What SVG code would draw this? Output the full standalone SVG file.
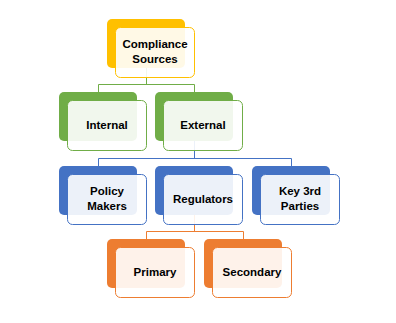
<svg xmlns="http://www.w3.org/2000/svg" width="396" height="323" viewBox="0 0 396 323">
<style>
.bk{stroke:none}
.fr{fill:#ffffff;fill-opacity:0.9;stroke-width:1}
.t{font-family:"Liberation Sans",Arial,sans-serif;font-weight:bold;font-size:11.5px;fill:#000;text-anchor:middle}
.ln{fill:none;stroke-width:1}
.y .bk{fill:#FFC000}.y .fr{stroke:#FFC000}
.g .bk{fill:#70AD47}.g .fr{stroke:#70AD47}
.b .bk{fill:#4472C4}.b .fr{stroke:#4472C4}
.o .bk{fill:#ED7D31}.o .fr{stroke:#ED7D31}
</style>
<rect width="396" height="323" fill="#ffffff"/>
<g id="connectors">
<path class="ln" stroke="#70AD47" d="M146.5,68 V84.5 M98.5,92 V84.5 H194.5 V92"/>
<path class="ln" stroke="#4472C4" d="M194.5,141 V158.5 M98.5,166 V158.5 H291.5 V166"/>
<path class="ln" stroke="#ED7D31" d="M194.5,215 V231.5 M146.5,239 V231.5 H243.5 V239"/>
</g>
<g id="compliance" class="y">
<rect class="bk" x="107" y="19" width="78" height="49" rx="5"/>
<rect class="fr" x="115.5" y="27.5" width="79" height="50" rx="5"/>
<text class="t" x="155" y="48">Compliance</text>
<text class="t" x="155" y="63">Sources</text>
</g>
<g id="internal" class="g">
<rect class="bk" x="59" y="92" width="78" height="49" rx="5"/>
<rect class="fr" x="67.5" y="100.5" width="79" height="50" rx="5"/>
<text class="t" x="107" y="129">Internal</text>
</g>
<g id="external" class="g">
<rect class="bk" x="155" y="92" width="78" height="49" rx="5"/>
<rect class="fr" x="163.5" y="100.5" width="79" height="50" rx="5"/>
<text class="t" x="203" y="129">External</text>
</g>
<g id="policy" class="b">
<rect class="bk" x="59" y="166" width="78" height="49" rx="5"/>
<rect class="fr" x="67.5" y="174.5" width="79" height="50" rx="5"/>
<text class="t" x="107" y="194.5">Policy</text>
<text class="t" x="107" y="209.5">Makers</text>
</g>
<g id="regulators" class="b">
<rect class="bk" x="155" y="166" width="78" height="49" rx="5"/>
<rect class="fr" x="163.5" y="174.5" width="79" height="50" rx="5"/>
<text class="t" x="203" y="202.5">Regulators</text>
</g>
<g id="key3rd" class="b">
<rect class="bk" x="252" y="166" width="78" height="49" rx="5"/>
<rect class="fr" x="260.5" y="174.5" width="79" height="50" rx="5"/>
<text class="t" x="300" y="194.5">Key 3rd</text>
<text class="t" x="300" y="209.5">Parties</text>
</g>
<g id="primary" class="o">
<rect class="bk" x="107" y="239" width="78" height="49" rx="5"/>
<rect class="fr" x="115.5" y="247.5" width="79" height="50" rx="5"/>
<text class="t" x="155" y="276">Primary</text>
</g>
<g id="secondary" class="o">
<rect class="bk" x="204" y="239" width="78" height="49" rx="5"/>
<rect class="fr" x="212.5" y="247.5" width="79" height="50" rx="5"/>
<text class="t" x="252" y="276">Secondary</text>
</g>
</svg>
